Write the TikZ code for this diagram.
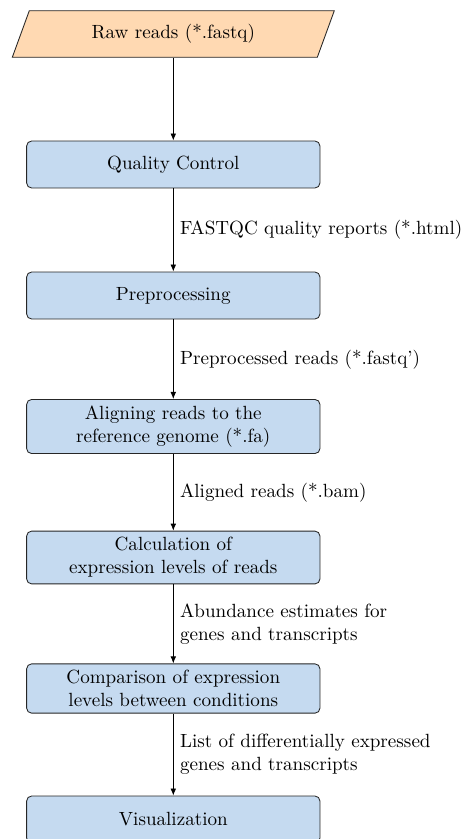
\documentclass[tikz,border=0pt]{standalone}
\usetikzlibrary{arrows.meta}
\definecolor{boxblue}{RGB}{197,218,240}
\definecolor{rawfill}{RGB}{255,217,178}
\begin{document}
\begin{tikzpicture}[x=0.5237pt,y=-0.5237pt,
  proc/.style={draw=black!85, line width=0.45pt, fill=boxblue, rounded corners=2.6pt, minimum width=153.6pt,
    minimum height=24.6pt, align=center, inner sep=3.33pt},
  flow/.style={line width=0.45pt, -{Latex[length=3.7pt,width=3pt]}},
  lbl/.style={right, align=left, inner sep=3.33pt}]
\useasboundingbox (0,0) rectangle (464,839);
% input parallelogram
\coordinate (rawc) at (173.3,34);
\filldraw[fill=rawfill, draw=black!85, line width=0.45pt] ([shift={(-161,23.3)}]rawc) -- ([shift={(-144,-23.3)}]rawc)
  -- ([shift={(161,-23.3)}]rawc) -- ([shift={(144,23.3)}]rawc) -- cycle;
\node (raw) at (rawc) [minimum width=150.8pt, minimum height=24.4pt, inner sep=0pt] {Raw reads (*.fastq)};
% process boxes
\node[proc] (qc)    at (173.3,164.5) {Quality Control};
\node[proc] (pre)   at (173.3,295.5) {Preprocessing};
\node[proc] (align) at (173.3,426.5) {Aligning reads to the\\reference genome (*.fa)};
\node[proc] (calc)  at (173.3,557.5) {Calculation of\\expression levels of reads};
\node[proc] (comp)  at (173.3,688.5) {Comparison of expression\\levels between conditions};
\node[proc] (vis)   at (173.3,819.5) {Visualization};
% connectors
\draw[flow] (raw) -- (qc);
\draw[flow] (qc) -- node[lbl] {FASTQC quality reports (*.html)} (pre);
\draw[flow] (pre) -- node[lbl] {Preprocessed reads (*.fastq')} (align);
\draw[flow] (align) -- node[lbl] {Aligned reads (*.bam)} (calc);
\draw[flow] (calc) -- node[lbl] {Abundance estimates for\\genes and transcripts} (comp);
\draw[flow] (comp) -- node[lbl] {List of differentially expressed\\genes and transcripts} (vis);
\end{tikzpicture}
\end{document}
